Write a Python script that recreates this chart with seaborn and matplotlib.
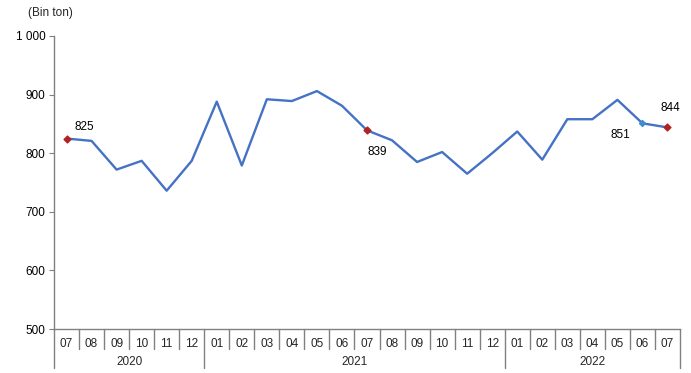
import matplotlib
matplotlib.use("Agg")
import matplotlib.pyplot as plt
import seaborn as sns
import numpy as np
import pandas as pd

months = ["07", "08", "09", "10", "11", "12",
          "01", "02", "03", "04", "05", "06", "07", "08", "09", "10", "11", "12",
          "01", "02", "03", "04", "05", "06", "07"]
years = ["2020", "2021", "2022"]
year_counts = [6, 12, 7]
values = [825, 821, 772, 787, 736, 787,
          888, 779, 892, 889, 906, 881, 839, 822, 785, 802, 765, 800,
          837, 789, 858, 858, 891, 851, 844]
y_ticks = [500, 600, 700, 800, 900, 1000]
y_tick_labels = ["500", "600", "700", "800", "900", "1 000"]
highlight_red = [0, 12, 24]
highlight_blue = [23]

sns.set_theme(style="white")
plt.rcParams["font.family"] = ["Liberation Sans", "DejaVu Sans"]

W, H = 691, 373
PT = 72 / 100  # points per pixel
fig = plt.figure(figsize=(W / 100, H / 100), dpi=100)
ax_h = 329 - 36
ax = fig.add_axes([54 / W, (H - 329) / H, (680 - 54) / W, ax_h / H])

df = pd.DataFrame({"pos": np.arange(len(values)), "value": values})
line_color = "#4472C4"
sns.lineplot(data=df, x="pos", y="value", ax=ax, color=line_color, linewidth=1.7)

red = df.iloc[highlight_red]
ax.scatter(red["pos"], red["value"], color="#B22222", marker="D", s=12, zorder=5)
blue = df.iloc[highlight_blue]
ax.scatter(blue["pos"], blue["value"], color="#3A8FD0", marker="D", s=9, zorder=5)

ax.set_xlim(-0.5, len(values) - 0.5)
ax.set_ylim(500, 1000)
ax.set_yticks(y_ticks)
ax.set_yticklabels(y_tick_labels, fontsize=8.5, color="#000000")
ax.tick_params(axis="y", length=5 * PT, width=0.8, color="#808080", pad=2.5, left=True)
ax.set_xticks(np.arange(len(values)))
ax.set_xticklabels(months, fontsize=8.5)
ax.tick_params(axis="x", length=0, pad=6.5)
ax.set_xlabel("")
ax.set_ylabel("")

for s in ["top", "right"]:
    ax.spines[s].set_visible(False)
for s in ["left", "bottom"]:
    ax.spines[s].set_color("#808080")
    ax.spines[s].set_linewidth(1)

# point labels (offsets in pixels: dx, dy downwards positive, ha)
lab = {0: (7.5, -12, "left"), 12: (0, 21.5, "left"), 23: (-12, 11.5, "right"), 24: (2.5, -19, "center")}
for i, (dx, dy, ha) in lab.items():
    ax.annotate(str(values[i]), (i, values[i]), xytext=(dx * PT, -dy * PT), textcoords="offset points",
                fontsize=8.5, ha=ha, va="center", color="#000000")

# category dividers
trans = ax.get_xaxis_transform()
px = 1 / ax_h
boundaries_year = np.cumsum([0] + year_counts) - 0.5
for b in np.arange(len(values) + 1) - 0.5:
    length = 39 if np.any(np.isclose(b, boundaries_year)) else 20
    ax.plot([b, b], [0, -length * px], transform=trans, color="#808080", lw=1, clip_on=False)

start = 0
for yr, cnt in zip(years, year_counts):
    center = start + cnt / 2 - 0.5
    ax.text(center, -33 * px, yr, transform=trans, ha="center", va="center", fontsize=8.5)
    start += cnt

fig.text(28 / W, 1 - 13 / H, "(Bin ton)", fontsize=8.5, ha="left", va="center")

fig.savefig("out.png", dpi=100)
